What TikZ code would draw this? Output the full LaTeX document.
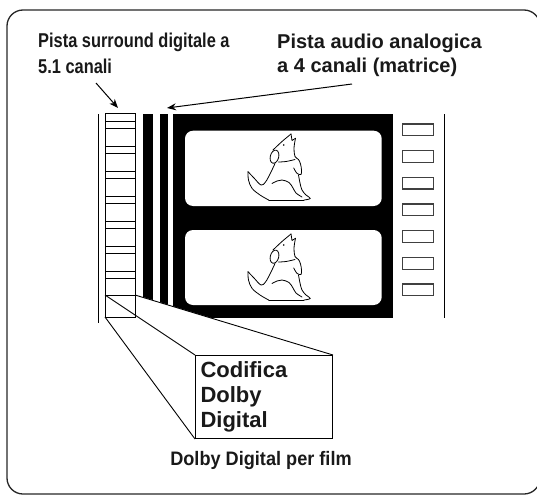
\documentclass[tikz,border=0pt]{standalone}
\usepackage{fontspec}
\setmainfont{Liberation Sans}
\newfontfamily\narrowfont[FakeStretch=0.82]{Liberation Sans}
\newfontfamily\filmfont[FakeStretch=0.93]{Liberation Sans}
\usetikzlibrary{arrows.meta, positioning, calc}

% little sitting dog, drawn in pixel units from its top left corner
\newcommand{\sitdog}[1]{%
  \begin{scope}[shift={#1}, dogline]
    \draw plot[smooth, tension=0.6] coordinates {(33,22) (42,13.5) (51,6)};
    \draw (51,6) -- (52,12.5) -- (55.5,10.3);
    \draw plot[smooth, tension=0.6] coordinates {(55.5,10.3) (54,20) (55,28.5) (58.5,31.5) (60.5,36) (61.5,42) (61,46.5) (57,45.3) (53.7,40)};
    \draw[rotate around={-15:(34.5,28.7)}] (34.5,28.7) ellipse (4.2 and 6.7);
    \fill (43.7,17) circle (0.9);
    \draw plot[smooth, tension=0.6] coordinates {(38.5,34) (46,33.5) (55,31.5)};
    \draw plot[smooth, tension=0.6] coordinates {(35,35.5) (30.5,45) (25.5,54) (21,57) (14,50) (8,43.7)};
    \draw plot[smooth, tension=0.6] coordinates {(8,43.7) (8.5,52) (12,60.3) (20,67) (28.7,72)};
    \draw (28.7,72) -- (64,72);
    \draw plot[smooth, tension=0.6] coordinates {(58.5,47) (60,55) (62,62) (66,67) (70.3,70.5) (64,72)};
    \draw plot[smooth, tension=0.6] coordinates {(32,55.5) (37,53) (42,52) (49,54.5) (53,60) (56,65) (62,69)};
  \end{scope}}

\begin{document}
\begin{tikzpicture}[x=1pt, y=-1pt,
    lbl/.style={inner sep=0pt, align=left, text=black!90},
    hole/.style={draw=black!75, line width=1.1pt},
    track/.style={line width=0.9pt},
    pointer/.style={line width=1pt, -{Stealth[length=9pt, width=7pt]}},
    dogline/.style={line width=0.8pt, line join=round, line cap=round}
]
\useasboundingbox (0,0) rectangle (537,495);
\clip (0,0) rectangle (537,495);

% outer panel
\draw[black!85, line width=1.3pt, rounded corners=16pt] (7,10) rectangle (540,494);

% captions (base = last line)
\node[lbl, anchor=base west, font=\narrowfont\bfseries\fontsize{20}{25}\selectfont] (surroundlbl) at (38,73)
    {Pista surround digitale a\\5.1 canali};
\node[lbl, anchor=base west, font=\bfseries\fontsize{20}{24}\selectfont] (analoglbl) at (277,72)
    {Pista audio analogica\\a 4 canali (matrice)};

% film edges
\draw[line width=1pt] (98,114) -- (98,323);
\draw[line width=1pt] (444.3,114) -- (444.3,318);

% digital track blocks
\draw[track] (105,113) rectangle (135,317);
\foreach \y in {0,...,6}
  \draw[track] (105,121+25*\y) -- (135,121+25*\y)
               (105,128+25*\y) -- (135,128+25*\y);
\draw[track] (105,295) -- (135,295);

% analog stripes and picture area
\fill (143,114) rectangle (152.7,318);
\fill (160,114) rectangle (167.7,318);
\fill (172.7,114) rectangle (392.7,318);
\fill[white, rounded corners=8pt] (185,130.7) rectangle (381.7,206);
\fill[white, rounded corners=8pt] (185,230) rectangle (381.7,305);

% perforations
\foreach \y in {0,...,6}
  \draw[hole] (402.3,124+26.67*\y) rectangle (433.3,135.7+26.67*\y);

\sitdog{(240,128)}
\sitdog{(240,228)}

% zoom onto one block
\coordinate (zoomtl) at (105,295);
\coordinate (zoomtr) at (135,295);
\coordinate (zoombl) at (105,317);
\fill[white] (136,295) -- (332,355) -- (136,354.5) -- cycle;
\node[draw, line width=1pt, anchor=north west, text width=127pt, inner xsep=5pt,
      minimum height=83pt, align=left, font=\bfseries\fontsize{22}{25}\selectfont, text=black!90]
    (codbox) at (195,355) {Codifica\\Dolby\\Digital};
\draw[track] (zoomtl) -- (codbox.north west)
             (zoombl) -- (codbox.south west)
             (zoomtr) -- (codbox.north east);

\node[lbl, anchor=base, font=\filmfont\bfseries\fontsize{19.5}{25}\selectfont] (filmlbl) at (261,465)
    {Dolby Digital per film};

% pointers
\coordinate (surroundtail) at (96,83);
\coordinate (digitrack) at (118,108);
\coordinate (analogtail) at (352,84);
\coordinate (analogtrack) at (167,108);
\draw[pointer] (surroundtail) -- (digitrack);
\draw[pointer] (analogtail) -- (analogtrack);
\end{tikzpicture}
\end{document}
